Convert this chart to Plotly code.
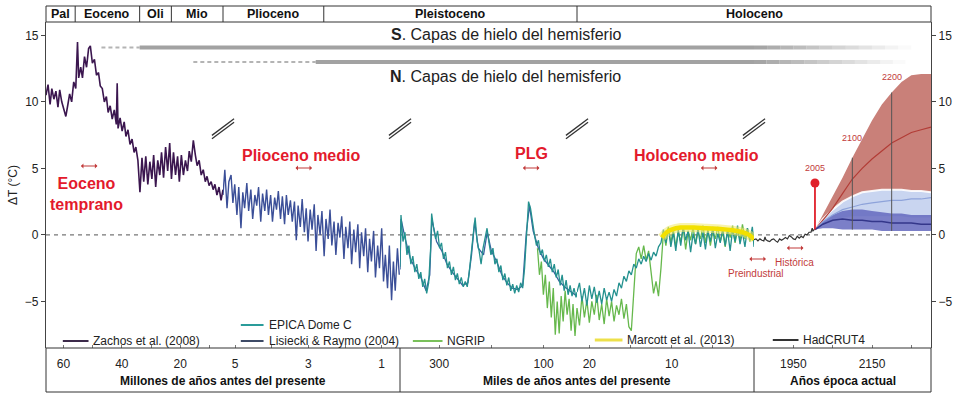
import plotly.graph_objects as go

# ---------------- data ----------------
# Panel 1: Zachos et al. (2008), age in Ma
zachos_age_ma = [66.0, 65.3, 64.6, 64.0, 63.3, 62.6, 61.9, 61.3, 60.6, 59.9, 59.2, 58.5, 57.9, 57.2, 56.5, 55.8,
                 55.5, 55.2, 54.8,
                 54.1, 53.5, 52.8, 52.1, 51.4, 50.8, 50.1, 49.4, 48.7, 48.0, 47.4, 46.7, 46.0, 45.3, 44.7, 44.0, 43.3, 42.6, 41.9,
                 41.6, 41.3,
                 40.6, 39.9, 39.2, 38.6, 37.9, 37.2, 36.5, 35.8, 35.2, 34.5,
                 33.8, 33.1, 32.5, 31.8, 31.1, 30.4, 29.7, 29.1, 28.4, 27.7,
                 27.0, 26.4, 25.7, 25.0, 24.3, 23.6, 23.0, 22.3, 21.6, 20.9,
                 20.3, 19.6, 18.9, 18.2, 17.5, 16.9, 16.2, 15.5, 14.8, 14.2,
                 13.5, 12.8, 12.1, 11.4, 10.8, 10.1, 9.4, 8.7, 8.1, 7.4,
                 6.7, 6.0, 5.33]
zachos_dt = [10.5, 11.3, 9.8, 11.0, 10.2, 10.8, 9.6, 10.9, 10.0, 9.4, 8.9, 9.8, 10.6, 10.0, 11.5, 11.0,
             12.5, 14.5, 11.8,
             12.6, 11.8, 13.4, 12.6, 14.0, 14.2, 12.9, 13.2, 12.0, 12.2, 11.2, 11.0, 10.0, 10.4, 9.2, 9.7, 8.7, 9.4, 8.3,
             11.4, 8.0,
             8.8, 7.8, 8.5, 7.4, 7.9, 6.8, 7.2, 6.2, 6.6, 5.6,
             3.2, 5.8, 4.0, 5.9, 3.8, 5.5, 4.2, 6.0, 3.6, 5.6,
             4.5, 6.2, 4.3, 6.6, 4.8, 6.9, 4.2, 6.2, 4.5, 5.9,
             4.0, 6.0, 4.5, 5.6, 4.8, 6.3, 5.5, 7.1, 6.0, 5.2,
             5.6, 4.5, 4.9, 4.0, 4.4, 3.7, 4.0, 3.4, 3.8, 3.0,
             3.6, 2.6, 3.4]

# Panel 2: Lisiecki & Raymo (2004), age in Ma
lisiecki_age_ma = [5.33, 5.28, 5.22, 5.17, 5.11, 5.06, 5.01, 4.95, 4.90, 4.84,
                   4.79, 4.74, 4.68, 4.63, 4.57, 4.52, 4.46, 4.41, 4.36, 4.30,
                   4.25, 4.19, 4.14, 4.09, 4.03, 3.98, 3.92, 3.87, 3.82, 3.76,
                   3.71, 3.65, 3.60, 3.55, 3.49, 3.44, 3.38, 3.33, 3.28, 3.22,
                   3.17, 3.11, 3.06, 3.01, 2.95, 2.90, 2.84, 2.79, 2.74, 2.68,
                   2.63, 2.57, 2.52, 2.46, 2.41, 2.36, 2.30, 2.25, 2.19, 2.14,
                   2.09, 2.03, 1.98, 1.92, 1.87, 1.82, 1.76, 1.71, 1.65, 1.60,
                   1.55, 1.49, 1.44, 1.38, 1.33, 1.28, 1.22, 1.17, 1.11, 1.06,
                   1.00, 0.95, 0.90, 0.84, 0.79, 0.73, 0.68, 0.63, 0.57, 0.52]
lisiecki_dt_ma = [3.0, 4.9, 2.0, 4.0, 4.5, 2.4, 3.8, 1.5, 3.6, 0.5,
                  3.2, 2.0, 3.9, 1.8, 3.4, 1.2, 3.0, 2.2, 3.6, 1.0,
                  3.1, 1.8, 3.4, 1.5, 3.0, 1.0, 2.8, 1.9, 3.3, 1.2,
                  2.9, 0.8, 3.0, 1.5, 2.6, 1.0, 2.5, -0.4, 2.2, 0.6,
                  2.7, 0.2, 2.0, -0.5, 1.9, 0.4, 2.3, -1.2, 1.5, 0.0,
                  1.8, -1.6, 1.2, -0.3, 1.9, -0.8, 1.0, -1.5, 0.9, -0.2,
                  1.4, -1.8, 0.6, -1.0, 1.0, -2.2, 0.4, -1.3, 0.8, -2.5,
                  0.2, -1.6, 0.5, -2.8, -0.3, -2.0, 0.3, -3.2, -0.8, -2.5,
                  0.5, -3.5, -1.5, -4.0, -0.8, -4.9, -2.0, -4.2, -1.0, -3.0]

# Panel 3: Lisiecki & Raymo (2004), age in ka
lisiecki_age_ka = [375, 373, 365, 355, 345, 335, 325, 318, 314, 305,
                   295, 285, 275, 265, 255, 245, 238, 232, 225, 215,
                   208, 200, 190, 180, 170, 160, 150, 140, 133, 127,
                   120, 110, 100, 90, 80, 70, 60, 50, 40, 36]
lisiecki_dt_ka = [-2.6, 1.2, -0.3, -1.8, -2.6, -3.2, -4.2, -3.0, 1.2, -0.5,
                  -1.2, -2.2, -2.8, -3.3, -3.8, -3.6, -1.5, 1.0, -1.0, -1.5,
                  0.2, -1.2, -2.0, -3.0, -3.6, -4.0, -4.1, -3.8, 0.2, 2.2,
                  0.3, -1.0, -1.8, -2.3, -2.8, -3.5, -3.9, -4.2, -4.5, -4.6]

# Panel 3: EPICA Dome C and NGRIP, age in ka
epica_age_ka_p3 = [375.0, 373.1, 369.3, 365.5, 361.7, 358.0, 354.2, 350.4, 346.6, 342.8,
                   339.0, 335.2, 331.4, 327.7, 323.9, 320.1, 316.3, 314.4, 310.6, 306.8,
                   303.0, 299.2, 295.5, 291.7, 287.9, 284.1, 280.3, 276.5, 272.7, 268.9,
                   265.1, 261.4, 257.6, 253.8, 250.0, 246.2, 242.4, 238.6, 234.8, 231.1,
                   227.3, 223.5, 219.7, 215.9, 212.1, 208.3, 204.5, 200.8, 197.0, 193.2,
                   189.4, 185.6, 181.8, 178.0, 174.2, 170.4, 166.7, 162.9, 159.1, 155.3,
                   151.5, 147.7, 143.9, 140.1, 136.4, 132.6, 128.8, 125.0, 121.2, 117.4,
                   113.6, 109.8, 106.1, 102.3, 98.5, 94.7, 90.9, 87.1, 83.3, 79.5,
                   75.8, 72.0, 68.2, 64.4, 60.6, 56.8, 53.0, 49.2, 45.5, 41.7,
                   37.9, 36.0]
epica_dt_p3 = [-2.4, 1.5, -0.5, 0.2, -1.5, -0.8, -2.2, -1.6, -2.8, -2.2,
               -3.3, -2.8, -3.9, -3.3, -4.4, -3.6, -1.0, 1.6, 0.5, -0.3,
               0.3, -1.0, -0.6, -1.8, -1.3, -2.5, -2.0, -3.0, -2.4, -3.4,
               -2.9, -3.7, -3.2, -3.9, -3.5, -3.9, -2.8, -1.2, 0.0, 1.3,
               -0.5, -1.2, -2.2, -1.0, -0.2, 0.5, -0.6, -1.5, -1.0, -2.2,
               -1.8, -2.8, -2.3, -3.4, -2.9, -3.8, -3.2, -4.2, -3.7, -4.4,
               -3.8, -4.3, -3.6, -4.0, -2.5, 0.5, 2.5, 2.0, 0.8, 0.0,
               -0.8, -0.4, -1.5, -1.1, -2.0, -1.5, -2.4, -1.8, -2.8, -2.2,
               -3.2, -2.6, -3.8, -3.0, -4.2, -3.4, -4.5, -3.8, -4.6, -4.0,
               -4.7, -4.3]
ngrip_age_ka_p3 = [111.7, 107.9, 104.2, 100.4, 96.6, 92.8, 89.0, 85.2, 81.4, 77.6,
                   73.9, 70.1, 66.3, 62.5, 58.7, 54.9, 51.1, 47.3, 43.6, 39.8, 36.0]
ngrip_dt_p3 = [-1.0, -3.0, -2.0, -4.5, -3.0, -5.5, -3.5, -6.2, -4.0, -7.5,
               -5.0, -7.4, -4.6, -6.5, -4.2, -6.0, -4.8, -7.2, -5.2, -7.6, -5.5]

# Panel 4: EPICA Dome C and NGRIP, age in ka
core_age_ka_p4 = [21.5, 21.2, 20.9, 20.6, 20.3, 20.0, 19.7, 19.4, 19.1, 18.8,
                  18.5, 18.2, 17.9, 17.6, 17.3, 17.0, 16.7, 16.4, 16.1, 15.8,
                  15.5, 15.2, 14.9, 14.6, 14.3, 14.0, 13.7, 13.4, 13.1, 12.8,
                  12.5, 12.2, 11.9, 11.6, 11.3, 11.0,
                  10.7, 10.4, 10.1, 9.8, 9.5, 9.2, 8.9, 8.6, 8.3, 8.0,
                  7.7, 7.4, 7.1, 6.8, 6.5, 6.2, 5.9, 5.6, 5.3, 5.0,
                  4.7, 4.4, 4.1, 3.8, 3.5, 3.2, 2.9, 2.6, 2.3, 2.0,
                  1.7, 1.4, 1.1, 0.8, 0.5, 0.2, 0.0]
epica_dt_p4 = [-4.3, -3.6, -5.0, -4.0, -5.3, -3.8, -4.8, -3.9, -5.1, -4.2,
               -5.2, -4.0, -4.9, -4.3, -5.0, -4.1, -4.6, -3.6, -4.0, -3.1,
               -3.5, -2.7, -3.0, -2.2, -2.5, -1.8, -2.2, -1.6, -2.0, -1.4,
               -1.9, -1.3, -1.6, -0.9, -0.6, 0.4,
               -0.6, 0.5, -0.9, 0.2, -1.2, 0.4, -0.8, 0.6, -0.4, 0.3,
               -1.3, 0.1, -0.7, 0.5, -0.9, 0.2, -1.1, 0.3, -0.5, 0.6,
               -1.0, 0.1, -0.6, 0.5, -0.8, 0.3, -1.2, 0.4, -0.5, 0.7,
               -0.7, 0.2, -0.9, 0.5, -0.4, 0.6, -0.9]
ngrip_dt_p4 = [-5.5, -6.8, -4.6, -6.2, -4.9, -6.6, -5.0, -6.0, -4.5, -6.4,
               -5.2, -6.7, -4.8, -6.1, -5.0, -6.5, -5.3, -6.0, -4.8, -6.3,
               -5.2, -6.9, -7.2, -4.0, -1.4, -0.9, -1.8, -0.8, -1.9, -1.2,
               -3.0, -4.4, -3.5, -4.6, -2.5, 0.2,
               -0.8, 0.6, -0.6, 0.4, -0.9, 0.2, -0.5, 0.5, -1.1, 0.3,
               -0.4, 0.6, -0.7, 0.2, -0.3, 0.7, -0.6, 0.4, -0.8, 0.3,
               -0.3, 0.6, -0.5, 0.2, -0.9, 0.5, -0.2, 0.7, -0.6, 0.4,
               -0.4, 0.8, -0.3, 0.5, -0.5, 0.3, -0.4]

# Panel 4: Marcott et al. (2013), age in ka
marcott_age_ka = [11.2, 10.6, 10.0, 8.9, 7.3, 5.8, 4.1, 2.6, 1.4, 0.6, 0.0]
marcott_dt = [-0.2, 0.2, 0.4, 0.55, 0.55, 0.5, 0.45, 0.35, 0.2, 0.0, -0.35]

# Panel 5: HadCRUT4 and projections, year CE
hadcrut_year = [1850, 1855, 1860, 1865, 1870, 1875, 1878, 1880, 1885, 1890, 1895, 1900, 1905, 1910,
                1915, 1920, 1925, 1930, 1935, 1940, 1945, 1950, 1955, 1960, 1965, 1970, 1975, 1980,
                1985, 1990, 1995, 1998, 2000, 2005]
hadcrut_dt = [-0.35, -0.3, -0.45, -0.3, -0.4, -0.45, -0.15, -0.35, -0.45, -0.5, -0.35, -0.3, -0.45, -0.55,
              -0.3, -0.4, -0.3, -0.2, -0.3, -0.05, -0.15, -0.3, -0.35, -0.1, -0.25, -0.1, -0.2, 0.05,
              0.0, 0.2, 0.2, 0.5, 0.3, 0.45]

proj_year = [2005, 2025, 2050, 2075, 2100, 2125, 2150, 2175, 2200, 2225, 2250, 2275, 2300]
high_lo = [0.4, 0.9, 1.5, 2.0, 2.5, 2.8, 3.0, 3.1, 3.2, 3.2, 3.2, 3.2, 3.2]
high_hi = [0.4, 1.5, 2.9, 4.3, 5.8, 7.2, 8.6, 9.8, 10.7, 11.5, 12.0, 12.1, 12.1]
high_mid = [0.4, 1.1, 2.0, 3.1, 4.2, 5.0, 5.7, 6.3, 6.9, 7.3, 7.7, 7.9, 8.1]
mid_lo = [0.4, 0.8, 1.1, 1.3, 1.4, 1.4, 1.4, 1.4, 1.4, 1.4, 1.3, 1.3, 1.3]
mid_hi = [0.4, 1.2, 1.9, 2.5, 2.9, 3.2, 3.3, 3.4, 3.4, 3.4, 3.3, 3.3, 3.2]
mid_mid = [0.4, 1.0, 1.5, 1.9, 2.1, 2.3, 2.4, 2.5, 2.6, 2.6, 2.7, 2.7, 2.8]
low_lo = [0.4, 0.5, 0.5, 0.4, 0.4, 0.4, 0.4, 0.3, 0.3, 0.3, 0.3, 0.3, 0.3]
low_hi = [0.4, 1.0, 1.5, 1.8, 1.9, 1.9, 1.8, 1.7, 1.6, 1.6, 1.5, 1.5, 1.5]
low_mid = [0.4, 0.8, 1.1, 1.2, 1.1, 1.1, 1.0, 1.0, 0.9, 0.9, 0.9, 0.8, 0.8]

marker_years = [2100, 2200]
marker_lo = [0.4, 0.3]
marker_hi = [5.8, 10.7]
ref_year = 2005
ref_dt = [0.4, 3.9]

# axes / labels
panel_ranges = [(66, 5.33), (5.33, 0.5), (375, 36), (21.5, 0), (1850, 2300)]
tick_vals = [[60, 50, 40, 30, 20, 10], [5, 4, 3, 2, 1], [300, 200, 100], [20, 15, 10, 5], [1950, 2050, 2150, 2250]]
tick_text = [["60", "", "40", "", "20", ""], ["5", "", "3", "", "1"], ["300", "", "100"], ["20", "", "10", ""],
             ["1950", "", "2150", ""]]
epoch_names = ["Pal", "Eoceno", "Oli", "Mio", "Plioceno", "Pleistoceno", "Holoceno"]
epoch_bounds_ma = [56, 33.9, 23.03]      # inside panel 1
plio_pleist_ma = 2.58                     # inside panel 2
legend_labels = ["Zachos et al. (2008)", "EPICA Dome C", "Lisiecki & Raymo (2004)", "NGRIP",
                 "Marcott et al. (2013)", "HadCRUT4"]

# ---------------- layout helpers ----------------
DOMAINS = [(0.0, 0.2), (0.2, 0.4), (0.4, 0.6), (0.6, 0.8), (0.8, 1.0)]
L, R, TOP, BOT = 43, 938, 22, 348


def to_paper(panel, v):
    d0, d1 = DOMAINS[panel]
    r0, r1 = panel_ranges[panel]
    return d0 + (v - r0) / (r1 - r0) * (d1 - d0)


def px(col):
    return (col - L) / (R - L)


def py(row):
    return (BOT - row) / (BOT - TOP)


FONT = "Liberation Sans, Arial, sans-serif"
RED = "#e31a2c"
DRED = "#c23b3b"

fig = go.Figure()


def add_line(x, y, axis, color, width=1.2, shape='linear', opacity=1.0):
    fig.add_trace(go.Scatter(x=x, y=y, xaxis=axis, yaxis='y', mode='lines',
                             line=dict(color=color, width=width, shape=shape),
                             opacity=opacity, hoverinfo='skip', showlegend=False))


def add_band(x, lo, hi, axis, fillcolor):
    fig.add_trace(go.Scatter(x=x, y=lo, xaxis=axis, yaxis='y', mode='lines', line=dict(width=0),
                             hoverinfo='skip', showlegend=False))
    fig.add_trace(go.Scatter(x=x, y=hi, xaxis=axis, yaxis='y', mode='lines', line=dict(width=0),
                             fill='tonexty', fillcolor=fillcolor, hoverinfo='skip', showlegend=False))


# ---------------- traces ----------------
add_line(zachos_age_ma, zachos_dt, 'x', '#3b164f', 1.6)
add_line(lisiecki_age_ma, lisiecki_dt_ma, 'x2', '#3b4f98', 1.4)
add_line(lisiecki_age_ka, lisiecki_dt_ka, 'x3', '#36609e', 1.3)
add_line(epica_age_ka_p3, epica_dt_p3, 'x3', '#24918f', 1.3)
add_line(ngrip_age_ka_p3, ngrip_dt_p3, 'x3', '#66b84c', 1.3)
add_line(core_age_ka_p4, ngrip_dt_p4, 'x4', '#66b84c', 1.3)
add_line(core_age_ka_p4, epica_dt_p4, 'x4', '#24918f', 1.3)
add_line(marcott_age_ka, marcott_dt, 'x4', '#f3ea6a', 9, 'spline', 0.55)
add_line(marcott_age_ka, marcott_dt, 'x4', '#f2e000', 4.5, 'spline')
add_line(hadcrut_year, hadcrut_dt, 'x5', '#333333', 1.2)

add_band(proj_year, high_lo, high_hi, 'x5', 'rgb(201,128,121)')
add_band(proj_year, mid_lo, mid_hi, 'x5', 'rgb(201,213,240)')
add_line(proj_year, mid_hi, 'x5', 'rgba(255,255,255,0.9)', 2)
add_band(proj_year, low_lo, low_hi, 'x5', 'rgba(100,104,190,0.85)')
add_line(proj_year, high_mid, 'x5', '#b23c36', 1.2)
add_line(proj_year, mid_mid, 'x5', '#8ea3da', 1.2)
add_line(proj_year, low_mid, 'x5', '#34378a', 1.5)
for yr, lo, hi in zip(marker_years, marker_lo, marker_hi):
    add_line([yr, yr], [lo, hi], 'x5', '#555555', 1)
add_line([ref_year, ref_year], ref_dt, 'x5', '#e0202a', 1.8)
fig.add_trace(go.Scatter(x=[ref_year], y=[ref_dt[1]], xaxis='x5', yaxis='y', mode='markers',
                         marker=dict(color='#e0202a', size=9), hoverinfo='skip', showlegend=False))

# ---------------- shapes ----------------
shapes = []
# zero line
shapes.append(dict(type='line', xref='paper', yref='y', x0=0, x1=1, y0=0, y1=0, layer='below',
                   line=dict(color='#777', width=1.3, dash='4px,4px')))
# header box & dividers
shapes.append(dict(type='rect', xref='paper', yref='paper', x0=0, x1=1, y0=py(TOP), y1=py(6),
                   line=dict(color='#333', width=1)))
hdr_bounds = [to_paper(0, b) for b in epoch_bounds_ma] + [0.2, to_paper(1, plio_pleist_ma), 0.6]
for b in hdr_bounds:
    shapes.append(dict(type='line', xref='paper', yref='paper', x0=b, x1=b, y0=py(TOP), y1=py(6),
                       line=dict(color='#333', width=1)))
# bottom band
shapes.append(dict(type='rect', xref='paper', yref='paper', x0=0, x1=1, y0=py(BOT), y1=py(392),
                   line=dict(color='#333', width=1)))
for b in [0.4, 0.8]:
    shapes.append(dict(type='line', xref='paper', yref='paper', x0=b, x1=b, y0=py(BOT), y1=py(392),
                       line=dict(color='#333', width=1)))
# break marks
for b in [0.2, 0.4, 0.6, 0.8]:
    for off in [-0.13, 0.13]:
        shapes.append(dict(type='line', xref='paper', yref='y', x0=b - 0.0125, x1=b + 0.0125,
                           y0=7.35 + off, y1=8.6 + off, line=dict(color='#333', width=1.3)))


# ice-sheet bars
def ice_bar(row, dash_start, solid_start, fade_end):
    shapes.append(dict(type='line', xref='paper', yref='paper', x0=dash_start, x1=solid_start,
                       y0=py(row), y1=py(row), line=dict(color='#b4b4b4', width=2, dash='4px,3px')))
    shapes.append(dict(type='line', xref='paper', yref='paper', x0=solid_start, x1=0.8,
                       y0=py(row), y1=py(row), line=dict(color='#a2a2a2', width=4)))
    n = 12
    for i in range(n):
        a = 0.8 + (fade_end - 0.8) * i / n
        b = 0.8 + (fade_end - 0.8) * (i + 1) / n
        shapes.append(dict(type='line', xref='paper', yref='paper', x0=a, x1=b, y0=py(row), y1=py(row),
                           opacity=1 - (i + 0.5) / n, line=dict(color='#a2a2a2', width=4)))


ice_bar(47.5, to_paper(0, 47), to_paper(0, 33.9), px(918))
ice_bar(62, to_paper(0, 15.5), to_paper(1, 2.8), px(912))

# legend samples
leg_pos = [(60, 86, 341), (240, 263, 325), (240, 263, 341), (414, 444, 341), (598, 626, 340), (778, 804, 340)]
leg_col = ['#3c2a4a', '#2a9c9a', '#3d4a66', '#79c05a', '#ede04a', '#333333']
for (a, b, r), c in zip(leg_pos, leg_col):
    shapes.append(dict(type='line', xref='paper', yref='paper', x0=px(a), x1=px(b), y0=py(r), y1=py(r),
                       line=dict(color=c, width=2 if c != '#ede04a' else 3)))

# ---------------- annotations ----------------
ann = []


def text(x, y, s, size=12, color='#222', bold=False, xref='paper', yref='paper', xanchor='center',
         family=FONT):
    ann.append(dict(x=x, y=y, xref=xref, yref=yref, text=f"<b>{s}</b>" if bold else s, showarrow=False,
                    xanchor=xanchor, yanchor='middle', font=dict(size=size, color=color, family=family)))


def double_arrow(c, r, half=9):
    ann.append(dict(x=px(c + half), y=py(r), xref='paper', yref='paper', ax=-2 * half, ay=0,
                    axref='pixel', ayref='pixel', text='', showarrow=True, arrowhead=1,
                    arrowside='end+start', arrowsize=0.7, arrowwidth=1.2, arrowcolor=DRED,
                    standoff=0, startstandoff=0))


# header labels
edges = [0] + hdr_bounds + [1]
for name, a, b in zip(epoch_names, edges[:-1], edges[1:]):
    text((a + b) / 2, py(14), name, 12.5, '#111', True)
# ice sheet labels
text(px(508), py(34), "<b>S</b>. Capas de hielo del hemisferio", 16, '#222')
text(px(508), py(76), "<b>N</b>. Capas de hielo del hemisferio", 16, '#222')
# red period labels
text(px(84), py(194), "Eoceno<br>temprano", 16, RED, True)
text(px(301), py(155), "Plioceno medio", 16, RED, True)
text(px(534), py(153), "PLG", 16, RED, True)
text(px(701), py(155), "Holoceno medio", 16, RED, True)
text(px(761), py(273), "Preindustrial", 10, DRED)
text(px(800), py(262), "Histórica", 10, DRED)
for (c, r) in [(86, 166), (303, 168), (533, 168), (713, 168), (762, 259), (800, 248)]:
    double_arrow(c, r)
# projection year labels
text(2005, 5.0, "2005", 9, DRED, xref='x5', yref='y')
text(2100, 7.3, "2100", 9, DRED, xref='x5', yref='y')
text(2200, 11.9, "2200", 9, DRED, xref='x5', yref='y')
# legend labels
for (a, b, r), lab in zip(leg_pos, legend_labels):
    text(px(b + 3), py(r), lab, 12, '#222', xanchor='left')
# bottom band titles
text(0.2, py(381), "Millones de años antes del presente", 12, '#111', True)
text(0.6, py(381), "Miles de años antes del presente", 12, '#111', True)
text(0.9, py(381), "Años época actual", 12, '#111', True)

# ---------------- layout ----------------
layout = dict(width=965, height=393, margin=dict(l=L, r=965 - R, t=TOP, b=393 - BOT),
              paper_bgcolor='white', plot_bgcolor='white', showlegend=False,
              font=dict(family=FONT, size=12, color='#222'),
              shapes=shapes, annotations=ann)
for i in range(5):
    key = 'xaxis' if i == 0 else f'xaxis{i + 1}'
    layout[key] = dict(domain=list(DOMAINS[i]), range=list(panel_ranges[i]), anchor='y',
                       showline=False, showgrid=False, zeroline=False,
                       ticks='inside', ticklen=3, tickcolor='#777', tickwidth=1,
                       tickvals=tick_vals[i], ticktext=tick_text[i], ticklabelstandoff=7,
                       tickfont=dict(size=12, color='#222'))
ycommon = dict(range=[-8.5, 16], showline=True, linecolor='#444', linewidth=1.2, ticks='outside',
               ticklen=4, tickcolor='#444', tickvals=[-5, 0, 5, 10, 15], showgrid=False, zeroline=False,
               tickfont=dict(size=12, color='#222'))
layout['yaxis'] = dict(anchor='x', side='left', title=dict(text='ΔT (°C)', standoff=4,
                                                           font=dict(size=12, color='#222')), **ycommon)
layout['yaxis2'] = dict(overlaying='y', side='right', anchor='free', position=1.0, **ycommon)
fig.update_layout(**layout)
# invisible point so that the right-hand axis is drawn
fig.add_trace(go.Scatter(x=[2100], y=[0], xaxis='x5', yaxis='y2', mode='markers',
                         marker=dict(opacity=0), hoverinfo='skip', showlegend=False))

fig.write_html("out.html")
